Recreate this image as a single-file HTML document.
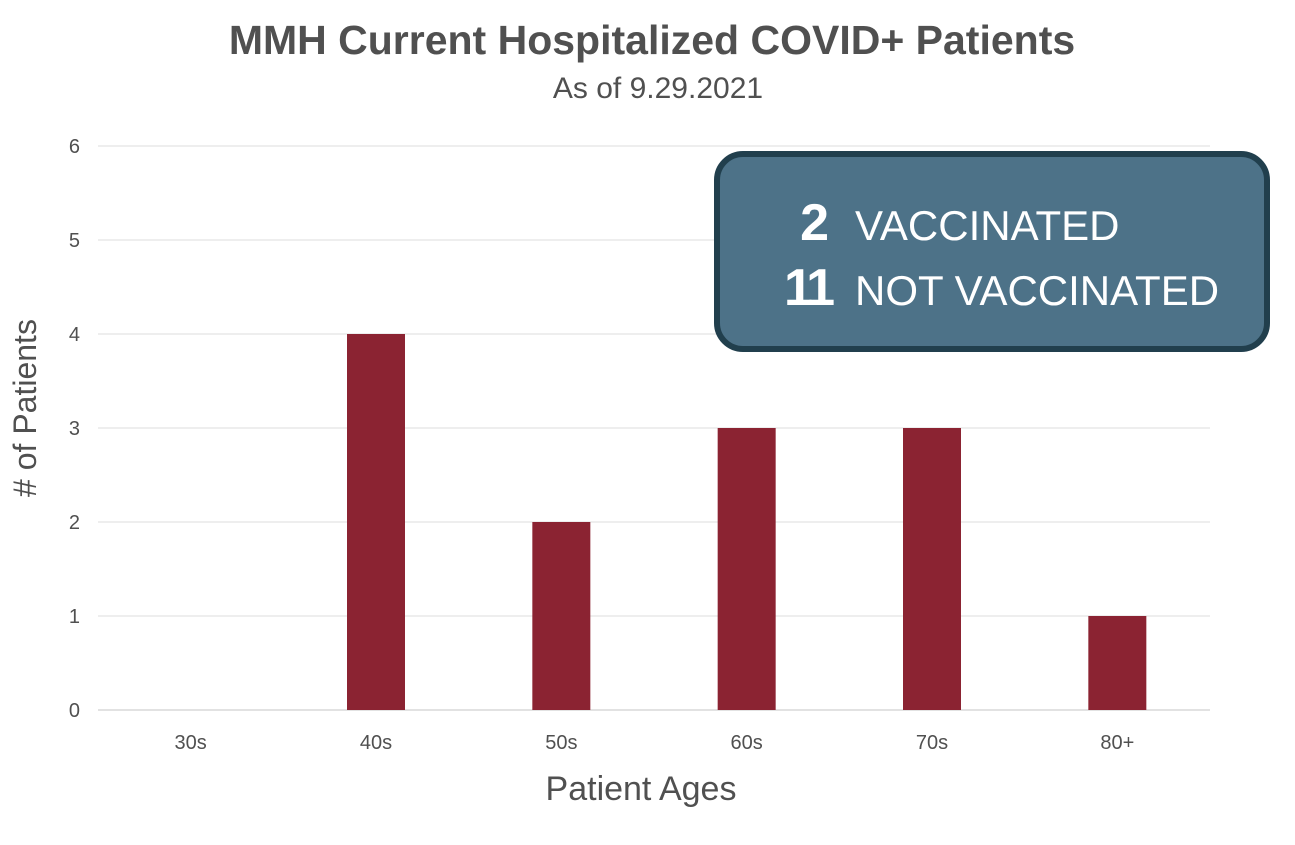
<!DOCTYPE html>
<html><head><meta charset="utf-8"><style>
html,body{margin:0;padding:0;background:#fff;}
svg{display:block;font-family:"Liberation Sans",sans-serif;}
</style></head><body>
<svg id="chart" width="1295" height="845" viewBox="0 0 1295 845">
<text x="652" y="54" text-anchor="middle" font-size="41" font-weight="bold" fill="#505050">MMH Current Hospitalized COVID+ Patients</text>
<text x="658" y="98" text-anchor="middle" font-size="30" fill="#505050">As of 9.29.2021</text>
<g id="grid"></g>
<g id="yticks"></g>
<g id="bars"></g>
<g id="xticks"></g>
<text transform="translate(36,408) rotate(-90)" text-anchor="middle" font-size="32" fill="#505050"># of Patients</text>
<text x="641" y="800" text-anchor="middle" font-size="34" fill="#505050">Patient Ages</text>
<g>
<rect x="717" y="154" width="550" height="195" rx="26" fill="#4d7288" stroke="#213f4d" stroke-width="6"/>
<text x="829" y="240" text-anchor="end" font-size="52" font-weight="bold" fill="#fff">2</text>
<text x="855" y="240" font-size="42" fill="#fff">VACCINATED</text>
<text x="831" y="305" text-anchor="end" font-size="52" font-weight="bold" fill="#fff" letter-spacing="-4">11</text>
<text x="855" y="305" font-size="42" fill="#fff">NOT VACCINATED</text>
</g>
</svg>
<script>
const categories = ["30s","40s","50s","60s","70s","80+"];
const values = [0,4,2,3,3,1];
const yTicks = [0,1,2,3,4,5,6];
const NS="http://www.w3.org/2000/svg";
const plotL=98, plotR=1210, y0=710, yTop=146, yMax=6;
const band=(plotR-plotL)/categories.length;
function xC(i){return plotL+band*(i+0.5);}
function yS(v){return y0-(y0-yTop)*v/yMax;}
function mk(t,a,parent){const e=document.createElementNS(NS,t);for(const k in a)e.setAttribute(k,a[k]);parent.appendChild(e);return e;}
const grid=document.getElementById('grid'),yt=document.getElementById('yticks'),bars=document.getElementById('bars'),xt=document.getElementById('xticks');
yTicks.forEach(v=>{
  const l=mk('line',{x1:plotL,x2:plotR,y1:yS(v),y2:yS(v),stroke:v===0?'#d9d9d9':'#e8e8e8','stroke-width':1.5},grid);
  
  
  const t=mk('text',{x:80,y:yS(v)+7,'text-anchor':'end','font-size':20,fill:'#505050'},yt);
  t.textContent=v;
  
  
});
categories.forEach((c,i)=>{
  const bw=58;
  if(values[i]>0){
    const r=mk('rect',{x:xC(i)-bw/2,y:yS(values[i]),width:bw,height:y0-yS(values[i]),fill:'#8b2332'},bars);
    
    
  }
  const t=mk('text',{x:xC(i),y:749,'text-anchor':'middle','font-size':20,fill:'#505050'},xt);
  t.textContent=c;
  
  
});
</script>
</body></html>
